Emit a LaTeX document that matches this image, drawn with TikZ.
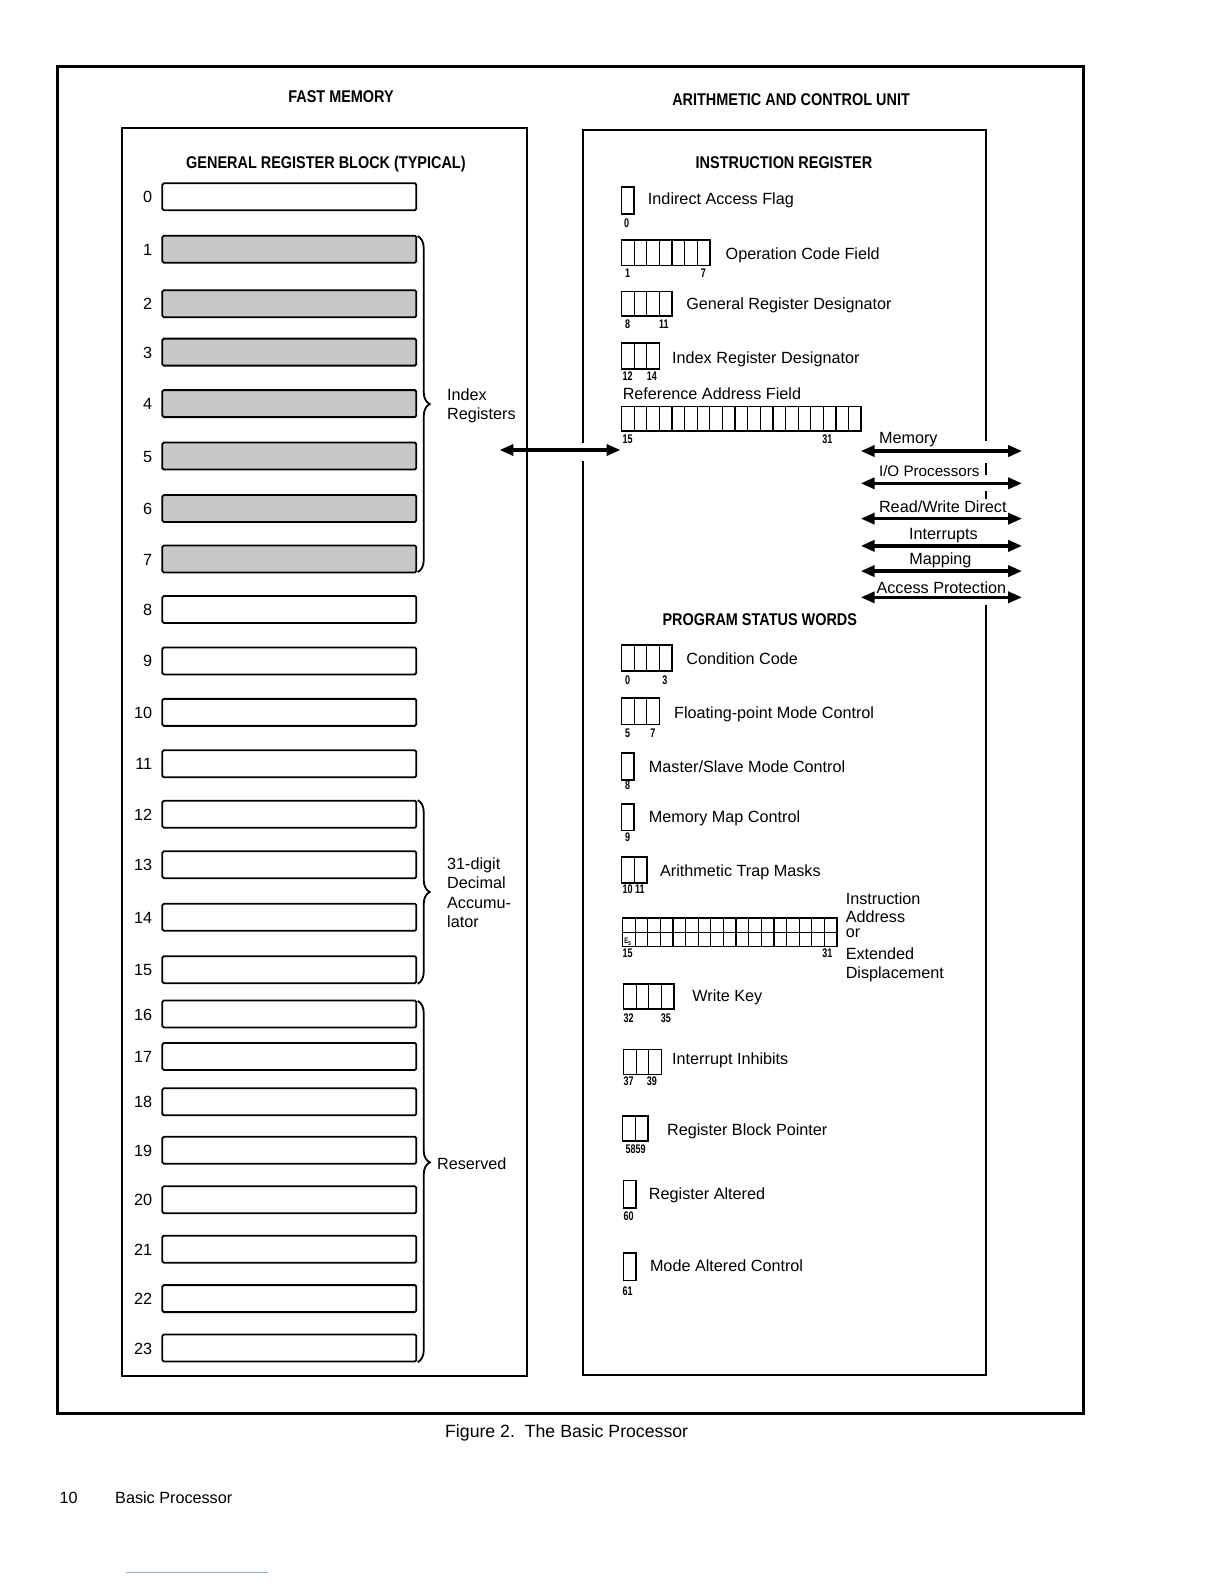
\documentclass[tikz,border=0pt]{standalone}
\usepackage{fontspec}
\setmainfont{Liberation Sans}
\newfontfamily\condfont[FakeStretch=0.85]{Liberation Sans}
\newfontfamily\narrowfont[FakeStretch=0.72]{Liberation Sans}
\usetikzlibrary{arrows.meta,decorations.pathreplacing}
\definecolor{regshade}{gray}{0.78}
\definecolor{faintblue}{RGB}{150,170,220}
\tikzset{
 frame/.style={line width=2.4pt},
 boxline/.style={line width=1.8pt},
 reg/.style={draw, line width=1.8pt, rounded corners=1.5pt, minimum width=254pt, minimum height=27pt, anchor=west, inner sep=0pt},
 shreg/.style={reg, fill=regshade},
 cell/.style={line width=1.7pt},
 cellsep/.style={line width=1.2pt},
 head/.style={font=\condfont\bfseries\fontsize{17}{20}\selectfont, inner sep=0pt, anchor=base},
 lbl/.style={font=\fontsize{16.2}{19}\selectfont, inner sep=0pt, anchor=base west},
 bitno/.style={font=\narrowfont\bfseries\fontsize{12.5}{12.5}\selectfont, inner sep=0pt, anchor=base},
 regno/.style={font=\fontsize{16.2}{19}\selectfont, inner sep=0pt, anchor=base east},
 bus/.style={line width=3.5pt, {Triangle[length=14pt,width=11pt]}-{Triangle[length=14pt,width=11pt]}},
 brc/.style={decorate, decoration={brace, amplitude=12pt}, line width=1.8pt},
}
\newcommand\cellrow[4]{%
 \draw[cell] (#1,#2) rectangle ({#1+#3*12.5},{#2+#4});
 \ifnum#3>1 \foreach \k in {2,...,#3}{\draw[cellsep] ({#1+(\k-1)*12.5},#2) -- ({#1+(\k-1)*12.5},{#2+#4});}\fi}
\begin{document}
\begin{tikzpicture}[x=1.009pt,y=-1.009pt]
\fill[white] (0,0) rectangle (1213.08,1569.87);
\useasboundingbox (0,0) rectangle (1213.08,1569.87);

% outer frame
\draw[frame] (57,66) rectangle (1074,1401);
\node[head] (fm) at (338,102) {FAST MEMORY};
\node[head] (acu) at (784,105) {ARITHMETIC AND CONTROL UNIT};

% fast memory box
\draw[boxline] (121,127) rectangle (522,1364);
\node[head] (grb) at (323,167) {GENERAL REGISTER BLOCK (TYPICAL)};

\foreach \i/\c in {0/195,8/604,9/655,10/706,11/757,12/807,13/857,14/909,15/961,16/1005,17/1047,18/1092,19/1140,20/1189,21/1238,22/1287,23/1336}{
  \node[reg] (r\i) at (160,\c) {};
  \node[regno] (n\i) at (151,\c+6) {\i};
}
\foreach \i/\c in {1/247,2/301,3/349,4/400,5/452,6/504,7/554}{
  \node[shreg] (r\i) at (160,\c) {};
  \node[regno] (n\i) at (151,\c+6) {\i};
}

% braces
\coordinate (ib1) at (414,234); \coordinate (ib2) at (414,567);
\draw[brc] (ib1) -- (ib2);
\node[lbl] (ix1) at (443,397) {Index};
\node[lbl] (ix2) at (443,416) {Registers};

\coordinate (db1) at (414,793); \coordinate (db2) at (414,975);
\draw[brc] (db1) -- (db2);
\node[lbl] (d1) at (443,862) {31-digit};
\node[lbl] (d2) at (443,881) {Decimal};
\node[lbl] (d3) at (443,900) {Accumu-};
\node[lbl] (d4) at (443,919) {lator};

\coordinate (rb1) at (414,992); \coordinate (rb2) at (414,1350);
\draw[brc, decoration={brace, amplitude=12pt, aspect=0.447}] (rb1) -- (rb2);
\node[lbl] (rs) at (433,1159) {Reserved};

% arrow between blocks
\coordinate (ba1) at (495,446); \coordinate (ba2) at (615,446);
\draw[bus] (ba1) -- (ba2);

% ACU box (broken where buses leave)
\draw[boxline] (977,437) -- (977,129) -- (578,129) -- (578,439);
\draw[boxline] (578,457) -- (578,1363) -- (977,1363) -- (977,600);
\draw[boxline] (977,459) -- (977,471);
\draw[boxline] (977,487) -- (977,495);

\node[head] (ir) at (777,167) {INSTRUCTION REGISTER};

% instruction register fields
\cellrow{616}{185}{1}{27}
\node[bitno] (b0) at (621,225) {0};
\node[lbl] (t0) at (642,203) {Indirect Access Flag};

\cellrow{616}{238}{7}{25}
\node[bitno] (b1) at (622,275) {1};
\node[bitno] (b7) at (697,275) {7};
\node[lbl] (t1) at (719,257) {Operation Code Field};

\cellrow{616}{289}{4}{24}
\node[bitno] (b8) at (622,326) {8};
\node[bitno] (b11) at (658,326) {11};
\node[lbl] (t2) at (680,307) {General Register Designator};

\cellrow{616}{340}{3}{26}
\node[bitno] (b12) at (622,377) {12};
\node[bitno] (b14) at (646,377) {14};
\node[lbl] (t3) at (666,360) {Index Register Designator};

\node[lbl] (t4) at (617,396) {Reference Address Field};
\cellrow{616}{403}{19}{24}
\node[bitno] (b15) at (622,440) {15};
\node[bitno] (b31) at (820,440) {31};

% buses
\foreach \j/\y in {1/447,2/479,3/514,4/541,5/566,6/592}{
  \coordinate (bl\j) at (853,\y); \coordinate (br\j) at (1013,\y);
  \draw[bus] (bl\j) -- (br\j);
}
\node[lbl] (lm) at (871,440) {Memory};
\node[lbl, font=\fontsize{15.2}{18}\selectfont] (lio) at (871,472) {I/O Processors};
\node[lbl] (lrw) at (871,508) {Read/Write Direct};
\node[lbl, anchor=base] (lint) at (935,535) {Interrupts};
\node[lbl, anchor=base] (lmap) at (932,559) {Mapping};
\node[lbl, anchor=base] (lap) at (933,588) {Access Protection};

% program status words
\node[head] (psw) at (753,620) {PROGRAM STATUS WORDS};

\cellrow{616}{639}{4}{26}
\node[bitno] (p0) at (622,678) {0};
\node[bitno] (p3) at (659,678) {3};
\node[lbl] (s1) at (680,659) {Condition Code};

\cellrow{616}{692}{3}{26}
\node[bitno] (p5) at (622,731) {5};
\node[bitno] (p7) at (647,731) {7};
\node[lbl] (s2) at (668,712) {Floating-point Mode Control};

\cellrow{616}{746}{1}{27}
\node[bitno] (p8) at (622,782) {8};
\node[lbl] (s3) at (643,766) {Master/Slave Mode Control};

\cellrow{616}{797}{1}{26}
\node[bitno] (p9) at (622,834) {9};
\node[lbl] (s4) at (643,815) {Memory Map Control};

\cellrow{616}{849}{2}{26}
\node[bitno] (p10) at (628,886) {10 11};
\node[lbl] (s5) at (654,869) {Arithmetic Trap Masks};

\cellrow{617}{910}{17}{28}
\draw[cellsep] (617,924) -- (829.5,924);
\node[inner sep=0pt, anchor=south west, font=\narrowfont\bfseries\fontsize{8}{8}\selectfont] (es) at (618.5,937) {E\raisebox{-2pt}{\fontsize{6}{6}\selectfont S}};
\node[bitno] (p15) at (622,949) {15};
\node[bitno] (p31) at (820,949) {31};
\node[lbl] (ia1) at (838,896) {Instruction};
\node[lbl] (ia2) at (838,914) {Address};
\node[lbl] (ia3) at (838,929) {or};
\node[lbl] (ia4) at (838,951) {Extended};
\node[lbl] (ia5) at (838,970) {Displacement};

\cellrow{618}{975}{4}{25}
\node[bitno] (p32) at (623,1013) {32};
\node[bitno] (p35) at (660,1013) {35};
\node[lbl] (s6) at (686,993) {Write Key};

\cellrow{618}{1040}{3}{25}
\node[bitno] (p37) at (623,1076) {37};
\node[bitno] (p39) at (646,1076) {39};
\node[lbl] (s7) at (666,1055) {Interrupt Inhibits};

\cellrow{617}{1106}{2}{25}
\node[bitno] (p58) at (630,1143) {5859};
\node[lbl] (s8) at (661,1125) {Register Block Pointer};

\cellrow{618}{1170}{1}{27}
\node[bitno] (p60) at (623,1210) {60};
\node[lbl] (s9) at (643,1189) {Register Altered};

\cellrow{618}{1242}{1}{27}
\node[bitno] (p61) at (622,1284) {61};
\node[lbl] (s10) at (644,1260) {Mode Altered Control};

% caption and footer
\node[lbl, font=\fontsize{17.7}{20}\selectfont] (cap) at (441,1425) {Figure 2.\ \ The Basic Processor};
\node[lbl] (pg) at (59,1490) {10};
\node[lbl] (pgt) at (114,1490) {Basic Processor};
\coordinate (fl1) at (125,1558); \coordinate (fl2) at (266,1558);
\draw[faintblue, line width=0.8pt] (fl1) -- (fl2);
\end{tikzpicture}
\end{document}
